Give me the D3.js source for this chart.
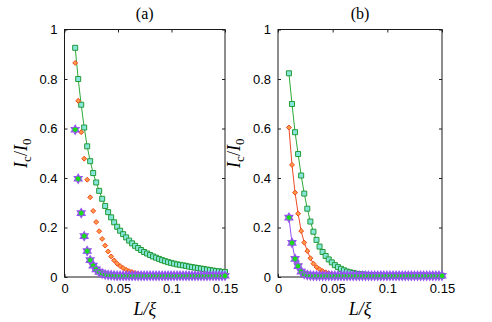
<!DOCTYPE html>
<html>
<head>
<meta charset="utf-8">
<script src="https://cdn.jsdelivr.net/npm/d3@7"></script>
<style>
  body { margin: 0; background: #fff; }
</style>
</head>
<body>
<script>
'use strict';

// L/xi grid shared by all curves
let lxi = [
  0.0100, 0.0128, 0.0156, 0.0184, 0.0212, 0.0240, 0.0268, 0.0296, 0.0324, 0.0352,
  0.0380, 0.0408, 0.0436, 0.0464, 0.0492, 0.0520, 0.0548, 0.0576, 0.0604, 0.0632,
  0.0660, 0.0688, 0.0716, 0.0744, 0.0772, 0.0800, 0.0828, 0.0856, 0.0884, 0.0912,
  0.0940, 0.0968, 0.0996, 0.1024, 0.1052, 0.1080, 0.1108, 0.1136, 0.1164, 0.1192,
  0.1220, 0.1248, 0.1276, 0.1304, 0.1332, 0.1360, 0.1388, 0.1416, 0.1444, 0.1472,
  0.1500
];

// panel (a)
let aSquares = [
  0.926, 0.800, 0.696, 0.604, 0.528, 0.468, 0.420, 0.382, 0.348, 0.316,
  0.287, 0.262, 0.241, 0.221, 0.203, 0.187, 0.173, 0.160, 0.147, 0.136,
  0.126, 0.117, 0.109, 0.101, 0.095, 0.089, 0.083, 0.078, 0.073, 0.068,
  0.064, 0.060, 0.057, 0.054, 0.051, 0.049, 0.047, 0.045, 0.042, 0.040,
  0.038, 0.036, 0.034, 0.032, 0.030, 0.028, 0.026, 0.024, 0.023, 0.021,
  0.020
];
let aDiamonds = [
  0.865, 0.712, 0.585, 0.478, 0.393, 0.322, 0.267, 0.222, 0.185, 0.154,
  0.127, 0.103, 0.083, 0.067, 0.054, 0.044, 0.036, 0.029, 0.024, 0.020,
  0.016, 0.013, 0.011, 0.009, 0.008, 0.007, 0.006, 0.005, 0.005, 0.005,
  0.005, 0.005, 0.005, 0.005, 0.005, 0.005, 0.005, 0.005, 0.005, 0.005,
  0.005, 0.005, 0.005, 0.005, 0.005, 0.005, 0.005, 0.005, 0.005, 0.005,
  0.005
];
let aStars = [
  0.595, 0.397, 0.258, 0.165, 0.105, 0.068, 0.046, 0.031, 0.021, 0.014,
  0.010, 0.008, 0.007, 0.006, 0.005, 0.005, 0.005, 0.005, 0.005, 0.005,
  0.005, 0.005, 0.005, 0.005, 0.005, 0.005, 0.005, 0.005, 0.005, 0.005,
  0.005, 0.005, 0.005, 0.005, 0.005, 0.005, 0.005, 0.005, 0.005, 0.005,
  0.005, 0.005, 0.005, 0.005, 0.005, 0.005, 0.005, 0.005, 0.005, 0.005,
  0.005
];

// panel (b)
let bSquares = [
  0.823, 0.699, 0.585, 0.497, 0.410, 0.337, 0.276, 0.224, 0.183, 0.150,
  0.123, 0.101, 0.085, 0.071, 0.059, 0.048, 0.040, 0.033, 0.027, 0.022,
  0.019, 0.016, 0.013, 0.011, 0.010, 0.009, 0.008, 0.007, 0.006, 0.005,
  0.005, 0.005, 0.005, 0.005, 0.005, 0.005, 0.005, 0.005, 0.005, 0.005,
  0.005, 0.005, 0.005, 0.005, 0.005, 0.005, 0.005, 0.005, 0.005, 0.005,
  0.005
];
let bDiamonds = [
  0.604, 0.453, 0.341, 0.256, 0.186, 0.139, 0.105, 0.076, 0.054, 0.040,
  0.031, 0.024, 0.019, 0.015, 0.012, 0.010, 0.008, 0.007, 0.006, 0.005,
  0.005, 0.005, 0.005, 0.005, 0.005, 0.005, 0.005, 0.005, 0.005, 0.005,
  0.005, 0.005, 0.005, 0.005, 0.005, 0.005, 0.005, 0.005, 0.005, 0.005,
  0.005, 0.005, 0.005, 0.005, 0.005, 0.005, 0.005, 0.005, 0.005, 0.005,
  0.005
];
let bStars = [
  0.240, 0.138, 0.073, 0.044, 0.022, 0.012, 0.008, 0.006, 0.005, 0.005,
  0.005, 0.005, 0.005, 0.005, 0.005, 0.005, 0.005, 0.005, 0.005, 0.005,
  0.005, 0.005, 0.005, 0.005, 0.005, 0.005, 0.005, 0.005, 0.005, 0.005,
  0.005, 0.005, 0.005, 0.005, 0.005, 0.005, 0.005, 0.005, 0.005, 0.005,
  0.005, 0.005, 0.005, 0.005, 0.005, 0.005, 0.005, 0.005, 0.005, 0.005,
  0.005
];

let xTicks = [0, 0.05, 0.1, 0.15];
let xTickText = ['0', '0.05', '0.1', '0.15'];
let yTicks = [0, 0.2, 0.4, 0.6, 0.8, 1];
let yTickText = ['0', '0.2', '0.4', '0.6', '0.8', '1'];
let titles = ['(a)', '(b)'];

let width = 492;
let height = 322;

// six-pointed star like matlab's 'h' marker
let hexagram = {
  draw: function(context, size) {
    let r = Math.sqrt(size);
    let ri = r / Math.sqrt(3);
    for (let k = 0; k < 12; k++) {
      let a = Math.PI / 6 * k - Math.PI / 2;
      let rr = k % 2 ? ri : r;
      if (k === 0) context.moveTo(rr * Math.cos(a), rr * Math.sin(a));
      else context.lineTo(rr * Math.cos(a), rr * Math.sin(a));
    }
    context.closePath();
  }
};

let diamond = {
  draw: function(context, size) {
    let r = Math.sqrt(size);
    context.moveTo(0, -r);
    context.lineTo(r, 0);
    context.lineTo(0, r);
    context.lineTo(-r, 0);
    context.closePath();
  }
};

let styles = {
  square: { type: d3.symbolSquare, size: 25, fill: '#86e6dc', stroke: '#239a37', line: '#2ea83a', sw: 1 },
  diamond: { type: diamond, size: 6, fill: '#ff9a45', stroke: '#f0481e', line: '#ee4a26', sw: 1 },
  star: { type: hexagram, size: 20, fill: '#16e016', stroke: '#9650f5', line: '#9650f5', sw: 1.2 }
};

let panels = [
  {
    title: titles[0], left: 64.5, right: 225, top: 29.5, bottom: 277,
    series: [
      { values: aSquares, kind: 'square', line: true },
      { values: aDiamonds, kind: 'diamond', line: false },
      { values: aStars, kind: 'star', line: false }
    ]
  },
  {
    title: titles[1], left: 278, right: 442, top: 29.5, bottom: 277,
    series: [
      { values: bSquares, kind: 'square', line: true },
      { values: bDiamonds, kind: 'diamond', line: true },
      { values: bStars, kind: 'star', line: true }
    ]
  }
];

let svg = d3.select('body').append('svg')
    .attr('width', width)
    .attr('height', height);

panels.forEach(function(p) {
  let x = d3.scaleLinear().domain([0, 0.15]).range([p.left, p.right]);
  let y = d3.scaleLinear().domain([0, 1]).range([p.bottom, p.top]);
  let g = svg.append('g');

  let fmtX = (d, i) => xTickText[i];
  let fmtY = (d, i) => yTickText[i];

  // axes, ticks pointing inward like matlab
  let axes = [
    g.append('g').attr('transform', 'translate(0,' + p.bottom + ')')
      .call(d3.axisBottom(x).tickValues(xTicks).tickFormat(fmtX).tickSize(-3).tickPadding(6.5)),
    g.append('g').attr('transform', 'translate(0,' + p.top + ')')
      .call(d3.axisTop(x).tickValues(xTicks).tickFormat('').tickSize(-3)),
    g.append('g').attr('transform', 'translate(' + p.left + ',0)')
      .call(d3.axisLeft(y).tickValues(yTicks).tickFormat(fmtY).tickSize(-3).tickPadding(7)),
    g.append('g').attr('transform', 'translate(' + p.right + ',0)')
      .call(d3.axisRight(y).tickValues(yTicks).tickFormat('').tickSize(-3))
  ];
  axes.forEach(function(a) {
    a.select('.domain').remove();
    a.selectAll('line').attr('stroke', '#222');
    a.selectAll('text')
      .attr('fill', '#000')
      .style('font-family', '"Liberation Sans", Arial, sans-serif')
      .style('font-size', '13px');
  });

  g.append('rect')
    .attr('x', p.left)
    .attr('y', p.top)
    .attr('width', p.right - p.left)
    .attr('height', p.bottom - p.top)
    .attr('fill', 'none')
    .attr('stroke', '#1a1a1a')
    .attr('stroke-width', 1);

  let line = d3.line()
    .x(function(d, i) { return x(lxi[i]); })
    .y(function(d) { return y(d); });

  p.series.forEach(function(s) {
    let st = styles[s.kind];
    if (s.line) {
      g.append('path')
        .datum(s.values)
        .attr('fill', 'none')
        .attr('stroke', st.line)
        .attr('stroke-width', 1)
        .attr('d', line);
    }
    let sym = d3.symbol().type(st.type).size(st.size);
    g.selectAll(null)
      .data(s.values)
      .enter().append('path')
        .attr('transform', function(d, i) { return 'translate(' + x(lxi[i]) + ',' + y(d) + ')'; })
        .attr('d', sym)
        .attr('fill', st.fill)
        .attr('stroke', st.stroke)
        .attr('stroke-width', st.sw);
  });

  let cx = (p.left + p.right) / 2;
  let cy = (p.top + p.bottom) / 2;
  let serif = '"Liberation Serif", "Times New Roman", serif';

  g.append('text')
    .attr('x', cx)
    .attr('y', 19)
    .attr('text-anchor', 'middle')
    .style('font-family', serif)
    .style('font-size', '16px')
    .text(p.title);

  let xl = g.append('text')
    .attr('x', cx)
    .attr('y', 315)
    .attr('text-anchor', 'middle')
    .style('font-family', serif)
    .style('font-size', '18px')
    .style('font-style', 'italic');
  xl.append('tspan').text('L');
  xl.append('tspan').text('/');
  xl.append('tspan').text('ξ');

  let yl = g.append('text')
    .attr('transform', 'translate(' + (p.left - 38) + ',' + cy + ') rotate(-90)')
    .attr('text-anchor', 'middle')
    .style('font-family', serif)
    .style('font-size', '18px');
  yl.append('tspan').style('font-style', 'italic').text('I');
  yl.append('tspan').attr('dy', 4).style('font-size', '13px').text('c');
  yl.append('tspan').attr('dy', -4).text('/');
  yl.append('tspan').style('font-style', 'italic').text('I');
  yl.append('tspan').attr('dy', 4).style('font-size', '13px').text('0');
});
</script>
</body>
</html>
